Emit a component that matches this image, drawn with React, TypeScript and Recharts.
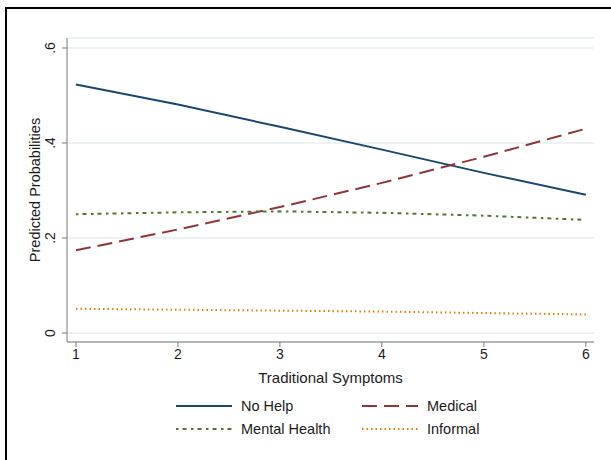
import React from "react";
import { LineChart, Line, XAxis, YAxis, CartesianGrid } from "recharts";

// values (predicted probabilities by symptom count)
const symptoms = [1, 2, 3, 4, 5, 6];
const noHelp = [0.523, 0.481, 0.434, 0.386, 0.337, 0.291];
const medical = [0.174, 0.218, 0.265, 0.316, 0.371, 0.43];
const mentalHealth = [0.25, 0.254, 0.256, 0.253, 0.247, 0.238];
const informal = [0.051, 0.049, 0.047, 0.045, 0.042, 0.039];

const yTicks = [0, 0.2, 0.4, 0.6];
const yTickLabels = ["0", ".2", ".4", ".6"];

const data = symptoms.map((s, i) => ({
  x: s,
  noHelp: noHelp[i],
  medical: medical[i],
  mentalHealth: mentalHealth[i],
  informal: informal[i],
}));

const FONT = "'Liberation Sans', Arial, Helvetica, sans-serif";
const AXIS = "#7a7a7a";
const TEXT = "#1b1b1b";

const series = [
  { key: "noHelp", name: "No Help", color: "#1a476f", dash: undefined as string | undefined },
  { key: "medical", name: "Medical", color: "#90353b", dash: "15 7" },
  { key: "mentalHealth", name: "Mental Health", color: "#55752f", dash: "2.5 4 4 4.5" },
  { key: "informal", name: "Informal", color: "#e37e00", dash: "1.5 3" },
];

// y labels in Stata are turned on their side
function YTick(props: any) {
  const { y, payload } = props;
  const idx = yTicks.indexOf(payload.value);
  return (
    <text
      x={50}
      y={y}
      transform={`rotate(-90, 50, ${y})`}
      textAnchor="middle"
      dominantBaseline="central"
      fill={TEXT}
      fontSize={14}
      fontFamily={FONT}
    >
      {idx >= 0 ? yTickLabels[idx] : payload.value}
    </text>
  );
}

// two-column key under the plot, same order as the series list
function LegendBox() {
  return (
    <div
      style={{
        position: "absolute",
        left: 176,
        top: 397,
        display: "grid",
        gridTemplateColumns: "186px 140px",
        rowGap: 5,
        fontFamily: FONT,
        fontSize: 14.5,
        color: TEXT,
      }}
    >
      {series.map((s) => (
        <div key={s.key} style={{ display: "flex", alignItems: "center", height: 18 }}>
          <svg width={56} height={10} style={{ marginRight: 9 }}>
            <line x1={0} x2={56} y1={5} y2={5} stroke={s.color} strokeWidth={2} strokeDasharray={s.dash} />
          </svg>
          <span>{s.name}</span>
        </div>
      ))}
    </div>
  );
}

export default function App() {
  return (
    <div style={{ position: "absolute", left: 0, top: 0, width: 611, height: 460, background: "#fff", overflow: "hidden" }}>
      <div
        style={{
          position: "absolute",
          left: 5,
          top: 7,
          width: 640,
          height: 480,
          borderTop: "2px solid #000",
          borderLeft: "2px solid #000",
        }}
      />
      <div style={{ position: "absolute", left: 0, top: 0 }}>
        <LineChart width={611} height={460} data={data} margin={{ top: 38, right: 17, left: 7, bottom: 0 }}>
          <CartesianGrid horizontal vertical={false} stroke="#e6eef0" strokeWidth={1.5} />
          <XAxis
            dataKey="x"
            type="number"
            domain={[0.912, 6.08]}
            ticks={symptoms}
            allowDataOverflow
            stroke={AXIS}
            tickSize={5}
            tick={{ fill: TEXT, fontSize: 14, fontFamily: FONT }}
            height={118}
            label={(p: any) => (
              <text
                x={p.viewBox.x + p.viewBox.width / 2}
                y={p.viewBox.y + 41}
                textAnchor="middle"
                fill={TEXT}
                fontSize={15}
                fontFamily={FONT}
              >
                Traditional Symptoms
              </text>
            )}
          />
          <YAxis
            type="number"
            domain={[-0.019, 0.621]}
            ticks={yTicks}
            allowDataOverflow
            stroke={AXIS}
            tickSize={5}
            width={60}
            tick={<YTick />}
            label={(p: any) => {
              const cx = p.viewBox.x + 28;
              const cy = p.viewBox.y + p.viewBox.height / 2;
              return (
                <text
                  x={cx}
                  y={cy}
                  transform={`rotate(-90, ${cx}, ${cy})`}
                  textAnchor="middle"
                  dominantBaseline="central"
                  fill={TEXT}
                  fontSize={14.5}
                  fontFamily={FONT}
                >
                  Predicted Probabilities
                </text>
              );
            }}
          />
          {series.map((s) => (
            <Line
              key={s.key}
              dataKey={s.key}
              name={s.name}
              stroke={s.color}
              strokeWidth={2}
              strokeDasharray={s.dash}
              dot={false}
              activeDot={false}
              type="linear"
              isAnimationActive={false}
            />
          ))}
        </LineChart>
      </div>
      <LegendBox />
    </div>
  );
}
